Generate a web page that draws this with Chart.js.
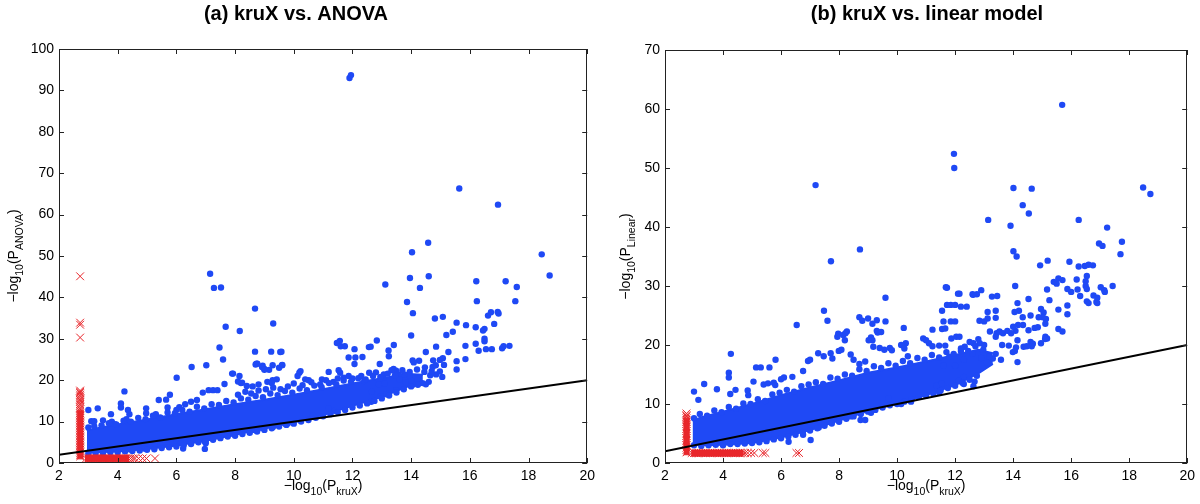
<!DOCTYPE html>
<html>
<head>
<meta charset="utf-8">
<script src="https://cdn.jsdelivr.net/npm/chart.js@4.4.1/dist/chart.umd.min.js"></script>
<style>
  body { margin: 0; background: #fff; }
  #wrap { position: relative; width: 1200px; height: 504px; }
  #wrap canvas { position: absolute; top: 0; }
</style>
</head>
<body>
<div id="wrap">
  <canvas id="chartA" width="600" height="504" style="left:0"></canvas>
  <canvas id="chartB" width="600" height="504" style="left:600px"></canvas>
</div>
<script>
// ---- shared axes ----
const xTickValues = [2, 4, 6, 8, 10, 12, 14, 16, 18, 20];
const aYTickValues = [0, 10, 20, 30, 40, 50, 60, 70, 80, 90, 100];
const bYTickValues = [0, 10, 20, 30, 40, 50, 60, 70];
const diagonal = [[2, 2], [20, 20]];   // y = x reference line

// ---- (a) kruX vs. ANOVA ----
// solid core of the blue cloud (upper / lower edge)
const aCoreX     = [2.95, 3.3, 4,   5,    6,    7,  8,    9,    10,   11,   12,   13,   13.9, 14.4];
const aCoreUpper = [7.8,  8.4, 9.3, 10.5, 11.8, 13, 14.2, 15.3, 16.5, 17.8, 19.2, 20.5, 21.5, 21.3];
const aCoreLower = [2.4,  2.6, 2.8, 3.4,  4.2,  5.4, 6.8, 8.3,  9.8,  11.6, 13.8, 16,   18.5, 19.8];

const aBlue = [
  [11.9, 93.0], [11.95, 93.7], [15.64, 66.3], [16.96, 62.4], [14.03, 50.9], [14.58, 53.2], [18.45, 50.4], [18.72, 45.3],
  [7.15, 45.7], [7.28, 42.3], [7.52, 42.4], [13.12, 43.1], [13.96, 44.7], [14.3, 42.3], [14.6, 45.1], [16.22, 43.9],
  [17.22, 43.9], [17.6, 42.5], [17.55, 39.1], [13.86, 38.9], [14.06, 36.2], [16.24, 39.1], [8.68, 37.3], [7.68, 32.9],
  [8.16, 31.9], [9.3, 33.7], [14.81, 34.9], [15.08, 35.3], [15.55, 33.9], [15.87, 33.3], [15.42, 31.7], [15.2, 30.9],
  [14.0, 30.8], [16.2, 32.8], [16.5, 32.4], [16.45, 32.0], [16.62, 35.6], [16.72, 36.4], [16.95, 36.5], [16.98, 36.1],
  [16.83, 33.6], [14.85, 28.1], [14.5, 26.8], [15.27, 26.8], [15.85, 28.3], [15.85, 25.1], [15.55, 24.6], [15.55, 22.6],
  [16.2, 28.8], [16.3, 27.1], [16.5, 30.0], [16.5, 29.4], [16.55, 27.5], [16.75, 27.5], [17.1, 27.7], [17.15, 28.2], [17.35, 28.3],
  [12.83, 29.6], [13.41, 28.5], [12.56, 28.0], [12.62, 28.1], [11.57, 29.5], [11.47, 29.0], [11.6, 28.2], [11.74, 28.2],
  [12.07, 27.5], [11.87, 25.5], [12.1, 25.5], [12.34, 25.6], [12.07, 23.9], [12.93, 23.9], [13.23, 27.2], [13.24, 25.8],
  [14.05, 24.8], [14.27, 24.7], [14.09, 24.3], [14.75, 24.8], [14.98, 24.9], [15.08, 25.3], [14.47, 23.1], [14.73, 23.2],
  [14.84, 23.6], [15.12, 23.7], [14.85, 21.4], [15.06, 20.8], [14.98, 22.1], [14.65, 21.2], [14.6, 19.6], [14.5, 19.0],
  [14.39, 19.3], [14.23, 18.9], [14.05, 18.9], [13.96, 18.9], [14.0, 20.0], [13.94, 21.2], [13.77, 21.4], [13.58, 21.4],
  [13.49, 22.3], [13.4, 22.7], [13.33, 22.4], [13.07, 21.4], [12.57, 21.8], [11.58, 21.8], [11.53, 22.4], [11.19, 22.0],
  [11.87, 21.0], [11.5, 20.4], [10.96, 20.2], [10.39, 20.2], [10.13, 21.0], [10.19, 21.8], [10.51, 20.0],
  [9.54, 26.8], [9.6, 23.6], [9.5, 23.0], [9.28, 23.6], [9.28, 20.0], [9.42, 20.2], [10.23, 22.2],
  [13.24, 16.8], [13.49, 17.6], [13.15, 16.6], [12.64, 14.8], [12.96, 16.1], [12.66, 17.2], [11.38, 12.6], [11.18, 13.2],
  [9.8, 9.6], [9.72, 9.4],
  [6.01, 20.6], [6.52, 23.2], [7.02, 23.6], [7.93, 21.6], [8.24, 19.4], [4.23, 17.3], [7.47, 27.9], [7.59, 25.0],
  [8.68, 26.9], [8.73, 24.0], [9.23, 26.9], [9.58, 26.9], [9.16, 22.5], [8.94, 23.5], [9.0, 22.7], [8.76, 24.0], [9.61, 23.7],
  [3.0, 12.8], [3.32, 13.2], [4.11, 14.4], [4.11, 13.4], [3.77, 11.8], [3.1, 10.1], [3.2, 10.1], [3.5, 10.3], [3.8, 10.0],
  [3.9, 9.4], [4.3, 10.6], [4.4, 11.8], [4.35, 12.8], [4.97, 13.2], [4.97, 12.0], [5.3, 11.8], [5.4, 15.2], [5.65, 15.3],
  [5.78, 16.5], [6.9, 17.0], [7.1, 17.6], [7.25, 17.6], [7.4, 17.6], [7.64, 19.1], [7.9, 21.6], [8.15, 21.0], [8.2, 19.3],
  [8.1, 19.7], [8.7, 23.8], [8.92, 23.2], [9.0, 22.5], [8.6, 18.5], [8.4, 18.6], [8.8, 19.0], [9.1, 19.6], [9.25, 19.3],
  [6.1, 13.5], [6.3, 14.2], [6.5, 14.8], [6.7, 15.2], [6.0, 12.8], [5.7, 13.4],
  [8.1, 16.5], [8.35, 17.2], [8.55, 16.8], [8.8, 17.5], [9.05, 17.8], [9.3, 18.2], [9.55, 17.8], [9.8, 18.5], [10.0, 19.2],
  [10.3, 18.8], [10.6, 19.5], [10.9, 19.0], [11.1, 20.0], [11.35, 19.6], [11.7, 20.6], [12.0, 20.4], [12.3, 21.0],
  [12.8, 21.9], [13.1, 19.2], [13.6, 20.2], [13.8, 19.5], [12.4, 19.8], [12.9, 19.0],
  [6.23, 3.5], [6.97, 3.4], [6.97, 5.2], [7.0, 4.8], [7.76, 7.1], [7.87, 7.1], [8.65, 8.0], [8.75, 7.8], [9.0, 8.8],
  [8.6, 8.8], [6.0, 5.2], [6.15, 4.8], [5.45, 4.4], [5.65, 4.8], [4.9, 3.5], [4.4, 3.3], [10.65, 11.5], [9.29, 8.7], [8.9, 8.5],
  // along the upper edge of the core
  [3.0, 8.6], [3.2, 8.9], [3.45, 9.1], [3.7, 9.6], [3.95, 9.3], [4.2, 10.2], [4.45, 10.0], [4.7, 10.9], [4.95, 10.6],
  [5.2, 11.4], [5.45, 11.0], [5.7, 12.2], [5.95, 12.0], [6.2, 12.8], [6.45, 12.4], [6.7, 13.6], [6.95, 13.2], [7.2, 14.2],
  [7.45, 14.0], [7.7, 15.0], [7.95, 14.6], [8.2, 15.6], [8.45, 15.3], [8.7, 16.2], [8.95, 15.9], [9.2, 16.8], [9.45, 16.4],
  [9.7, 17.4], [9.95, 17.0], [10.2, 18.0], [10.45, 17.6], [10.7, 18.7], [10.95, 18.3], [11.2, 19.3], [11.45, 19.0],
  [11.7, 19.9], [11.95, 19.6], [12.2, 20.5], [12.45, 20.2], [12.7, 21.0], [12.95, 20.8], [13.2, 21.6], [13.45, 21.2],
  [13.7, 22.4], [13.95, 22.0], [14.2, 22.6], [14.45, 22.0], [14.7, 22.2],
  // along the lower edge of the core
  [3.0, 2.3], [3.25, 2.5], [3.5, 2.4], [3.75, 2.6], [4.0, 2.6], [4.25, 2.8], [4.5, 2.9], [4.75, 3.0], [5.0, 3.2],
  [5.25, 3.3], [5.5, 3.6], [5.75, 3.8], [6.0, 4.0], [6.25, 4.3], [6.5, 4.6], [6.75, 5.0], [7.0, 5.2], [7.25, 5.6],
  [7.5, 6.0], [7.75, 6.4], [8.0, 6.6], [8.25, 7.0], [8.5, 7.3], [8.75, 7.6], [9.0, 8.0], [9.25, 8.4], [9.5, 8.8],
  [9.75, 9.2], [10.0, 9.5], [10.25, 10.0], [10.5, 10.4], [10.75, 10.9], [11.0, 11.3], [11.25, 11.8], [11.5, 12.3],
  [11.75, 12.8], [12.0, 13.4], [12.25, 13.9], [12.5, 14.4], [12.75, 15.0], [13.0, 15.6], [13.25, 16.3], [13.5, 17.0],
  [13.75, 17.8], [14.0, 18.5]
];

// red crosses: a column at kruX ~ 2.72 and a row at ANOVA ~ 1.1
const aRedColX = 2.72;
const aRedColY = [1.6, 2.0, 2.4, 2.8, 3.2, 3.6, 4.0, 4.4, 4.8, 5.2, 5.6, 6.0, 6.4, 6.8, 7.2, 7.6, 8.0, 8.4, 8.8, 9.2,
  9.6, 10.0, 10.4, 10.8, 11.2, 11.6, 12.0, 12.5, 13.0, 13.4, 13.9, 14.3, 14.8, 15.2, 15.6, 16.1, 16.5, 16.9, 17.2, 17.5,
  30.3, 33.4, 33.9, 45.1];
const aRedRowY = 1.1;
const aRedRowX = [2.92, 3.0, 3.08, 3.16, 3.24, 3.32, 3.4, 3.48, 3.56, 3.64, 3.72, 3.8, 3.88, 3.96, 4.04, 4.12, 4.2,
  4.28, 4.36, 4.44, 4.52, 4.59, 4.71, 4.85, 4.98, 5.27];
// where the red crosses overlap into a solid block: [xFrom, xTo, yFrom, yTo]
const aRedSolid = [[2.62, 2.83, 1.0, 12.6], [2.88, 4.4, 0.3, 1.9]];

// ---- (b) kruX vs. linear model ----
const bCoreX     = [2.95, 3.3, 4,   5,  6,    7,    8,  9,    10,   11,   12,   12.8, 13.3];
const bCoreUpper = [7.2,  7.8, 8.7, 10, 11.5, 12.8, 14, 15.3, 16.2, 17.2, 18.3, 19.2, 18.6];
const bCoreLower = [3.1,  3.0, 3.1, 3.4, 4.3, 5.6, 7.2, 8.8, 10.1, 11.5, 13.2, 15.2, 16.8];

const bBlue = [
  [15.69, 60.7], [11.96, 52.4], [11.97, 50.0], [7.19, 47.1], [14.01, 46.6], [14.64, 46.5], [18.48, 46.7], [18.73, 45.6],
  [14.33, 43.7], [14.54, 42.3], [13.14, 41.2], [16.26, 41.2], [13.91, 40.2], [17.24, 39.9], [8.72, 36.2], [7.72, 34.2],
  [14.01, 35.9], [14.12, 35.0], [17.75, 37.5], [17.7, 35.4], [16.96, 37.2], [17.08, 36.8], [14.93, 33.5], [15.19, 34.3],
  [15.94, 34.1], [16.26, 33.3], [16.47, 33.4], [16.6, 33.6], [16.75, 33.5], [16.54, 31.7], [15.5, 30.4], [15.7, 31.0],
  [16.0, 29.0], [16.19, 31.1], [16.22, 29.4], [16.31, 28.3], [16.5, 30.8], [16.5, 30.0], [16.54, 29.5], [16.54, 27.4],
  [16.77, 28.4], [16.87, 27.3], [17.02, 29.8], [17.14, 29.3], [17.16, 29.0], [17.43, 30.0], [16.6, 27.1], [16.9, 27.1], [16.9, 28.0],
  [14.07, 30.0], [14.53, 27.8], [15.25, 27.6], [15.17, 29.4], [15.4, 30.7], [15.56, 31.3], [15.56, 26.0], [15.56, 22.7],
  [15.87, 29.5], [15.87, 26.7], [15.87, 25.2],
  [11.72, 29.7], [12.15, 28.7], [12.6, 28.6], [12.75, 28.6], [12.9, 29.3], [13.45, 28.3], [13.27, 28.2], [11.68, 29.8],
  [12.1, 28.7], [12.62, 28.5], [11.72, 26.8], [11.85, 26.8], [12.0, 26.8], [11.55, 25.8], [12.2, 26.5], [12.4, 26.5],
  [9.6, 28.0], [7.48, 25.8], [7.6, 24.1], [8.7, 24.7], [8.8, 24.1], [9.0, 24.5], [9.3, 24.2], [9.15, 23.6], [9.6, 24.0],
  [9.33, 22.1], [9.3, 22.4], [9.45, 22.2], [10.23, 22.9], [8.27, 22.3], [8.2, 20.8], [7.97, 21.9], [6.54, 23.4], [9.1, 21.3],
  [9.15, 20.8], [9.4, 19.5], [9.75, 19.5], [10.3, 20.3], [10.9, 21.1], [11.1, 20.3], [11.22, 22.6], [11.55, 22.7],
  [11.66, 22.8], [11.6, 24.0], [11.85, 24.0], [12.0, 24.0],
  [12.84, 24.1], [13.12, 25.6], [13.12, 24.5], [13.0, 24.0], [13.4, 25.8], [13.4, 24.6], [14.2, 25.8], [14.05, 25.6],
  [14.15, 27.1], [14.6, 25.0], [14.96, 26.1], [15.05, 25.5], [15.02, 24.7], [15.13, 24.4], [15.11, 23.6], [14.88, 24.7],
  [14.85, 23.0], [14.74, 22.9], [14.33, 24.7], [14.34, 23.4], [14.17, 23.4], [14.08, 22.4], [14.15, 20.8], [14.1, 19.6],
  [14.06, 19.0], [14.15, 17.1], [14.53, 22.5], [14.6, 20.5], [14.68, 20.2], [14.64, 19.8], [14.36, 19.7], [14.47, 19.8],
  [14.96, 20.3], [15.11, 21.4], [15.17, 21.1], [15.7, 22.3], [15.1, 21.0],
  [13.43, 22.0], [13.53, 22.3], [13.65, 22.0], [13.8, 22.4], [13.93, 22.0], [14.0, 23.1], [13.2, 22.3], [13.4, 21.4],
  [13.62, 20.0], [13.85, 19.9], [13.99, 18.8], [13.58, 17.5], [13.3, 17.7],
  [9.02, 20.8], [9.18, 19.7], [9.56, 19.2], [9.82, 19.1], [10.14, 20.0], [10.25, 19.4], [10.37, 18.1], [11.0, 20.8],
  [11.22, 19.8], [11.45, 19.9], [11.66, 19.9], [11.87, 21.1], [12.04, 21.4], [12.15, 21.4], [12.33, 19.7], [12.63, 20.3],
  [12.85, 20.3], [12.97, 19.2], [13.18, 18.0], [12.5, 20.5], [12.8, 21.0], [13.0, 20.0], [12.6, 18.5], [12.9, 17.8],
  [13.1, 17.0], [13.4, 18.5], [12.3, 17.5], [12.0, 16.5], [12.2, 19.0], [11.8, 18.0], [11.6, 16.5],
  [12.67, 13.8], [12.63, 13.0], [12.3, 13.4], [12.3, 14.6], [12.12, 13.9], [11.45, 12.0], [11.36, 13.1], [10.48, 10.4],
  [10.14, 10.0], [9.7, 11.0], [11.54, 13.5],
  [3.0, 12.1], [3.15, 10.7], [3.35, 13.4], [3.79, 12.5], [4.27, 18.5], [4.2, 15.3], [4.2, 14.5], [4.43, 12.4], [4.25, 11.7],
  [4.85, 12.3], [4.87, 11.5], [5.14, 16.2], [5.3, 16.2], [5.6, 16.2], [5.81, 17.5], [5.05, 13.8], [5.4, 13.3], [5.55, 13.5],
  [5.75, 13.6], [5.8, 13.2], [6.0, 14.2], [6.1, 14.5], [6.39, 14.6], [6.76, 15.6], [6.93, 17.3], [7.0, 17.5], [7.28, 18.6],
  [7.47, 18.1], [7.71, 18.6], [7.77, 17.7], [7.99, 19.0], [8.08, 19.2], [8.14, 21.7], [7.94, 21.4], [8.22, 22.0], [8.4, 18.4],
  [8.5, 17.5], [8.7, 16.8], [8.9, 17.2],
  [6.26, 3.6], [7.02, 3.9], [6.76, 4.8], [6.62, 5.6], [7.3, 6.0], [7.54, 7.4], [8.74, 7.3], [8.9, 7.3], [8.4, 7.9], [9.1, 8.5],
  // along the upper edge of the core
  [3.0, 7.6], [3.2, 8.3], [3.45, 8.0], [3.7, 8.9], [3.95, 8.6], [4.2, 9.5], [4.45, 9.2], [4.7, 10.1], [4.95, 10.0],
  [5.2, 10.8], [5.45, 10.5], [5.7, 11.6], [5.95, 11.9], [6.2, 12.4], [6.45, 12.1], [6.7, 13.0], [6.95, 13.3], [7.2, 13.7],
  [7.45, 13.4], [7.7, 14.5], [7.95, 14.3], [8.2, 15.0], [8.45, 14.8], [8.7, 15.9], [8.95, 15.6], [9.2, 16.4], [9.45, 16.1],
  [9.7, 16.9], [9.95, 16.5], [10.2, 17.3], [10.45, 16.9], [10.7, 17.8], [10.95, 17.5], [11.2, 18.3], [11.45, 17.9],
  [11.7, 18.8], [11.95, 18.5], [12.2, 19.4], [12.45, 19.0], [12.7, 19.8],
  // along the lower edge of the core
  [3.0, 3.0], [3.25, 2.9], [3.5, 3.0], [3.75, 3.1], [4.0, 3.0], [4.25, 3.2], [4.5, 3.2], [4.75, 3.3], [5.0, 3.4],
  [5.25, 3.5], [5.5, 3.7], [5.75, 4.0], [6.0, 4.2], [6.25, 4.5], [6.5, 4.8], [6.75, 5.2], [7.0, 5.5], [7.25, 5.9],
  [7.5, 6.3], [7.75, 6.7], [8.0, 7.0], [8.25, 7.5], [8.5, 7.9], [8.75, 8.3], [9.0, 8.7], [9.25, 9.0], [9.5, 9.4],
  [9.75, 9.8], [10.0, 10.0], [10.25, 10.4], [10.5, 10.8], [10.75, 11.2], [11.0, 11.4], [11.25, 11.8], [11.5, 12.3],
  [11.75, 12.7], [12.0, 13.1], [12.25, 13.6], [12.5, 14.1], [12.75, 14.8]
];

const bRedColX = 2.74;
const bRedColY = [1.8, 2.2, 2.6, 3.0, 3.4, 3.8, 4.2, 4.6, 5.0, 5.4, 5.8, 6.2, 6.6, 7.0, 7.3, 7.6, 7.9, 8.1, 8.4];
const bRedRowY = 1.7;
const bRedRowX = [2.92, 3.0, 3.08, 3.16, 3.24, 3.32, 3.4, 3.48, 3.56, 3.64, 3.72, 3.8, 3.88, 3.96, 4.04, 4.12, 4.2,
  4.28, 4.36, 4.44, 4.52, 4.6, 4.68, 4.76, 4.85, 4.97, 5.08, 5.37, 5.46, 6.53, 6.62];
const bRedSolid = [[2.64, 2.85, 1.4, 7.6], [2.9, 4.7, 1.15, 2.2]];

// ---- drawing ----
const BLUE = '#1f49f5';
const RED = '#e8262b';
const FONT = '"Liberation Sans", Arial, Helvetica, sans-serif';

function pts(pairs) { return pairs.map(p => ({ x: p[0], y: p[1] })); }

// draw text runs where some pieces are subscripts, centred on (cx, cy)
function drawRuns(ctx, runs, cx, cy) {
  const main = '14px ' + FONT, sub = '10.5px ' + FONT;
  let total = 0;
  runs.forEach(r => { ctx.font = r[1] ? sub : main; total += ctx.measureText(r[0]).width; });
  let x = cx - total / 2;
  ctx.textAlign = 'left';
  ctx.textBaseline = 'middle';
  runs.forEach(r => {
    ctx.font = r[1] ? sub : main;
    ctx.fillText(r[0], x, cy + (r[1] ? 6 : 0));
    x += ctx.measureText(r[0]).width;
  });
}

const frame = {
  id: 'frame',
  afterDraw(chart, args, o) {
    const { ctx, chartArea: a, scales: { x, y } } = chart;
    ctx.save();
    ctx.strokeStyle = '#222';
    ctx.lineWidth = 1;
    ctx.strokeRect(Math.round(a.left) + 0.5, Math.round(a.top) + 0.5, Math.round(a.width) - 1, Math.round(a.height) - 1);
    ctx.beginPath();
    x.ticks.forEach(t => {
      const p = Math.round(x.getPixelForValue(t.value)) + 0.5;
      ctx.moveTo(p, a.bottom); ctx.lineTo(p, a.bottom - 5);
      ctx.moveTo(p, a.top); ctx.lineTo(p, a.top + 5);
    });
    y.ticks.forEach(t => {
      const p = Math.round(y.getPixelForValue(t.value)) + 0.5;
      ctx.moveTo(a.left, p); ctx.lineTo(a.left + 5, p);
      ctx.moveTo(a.right, p); ctx.lineTo(a.right - 5, p);
    });
    ctx.stroke();

    ctx.fillStyle = '#000';
    ctx.font = 'bold 20px ' + FONT;
    ctx.textAlign = 'center';
    ctx.textBaseline = 'middle';
    ctx.fillText(o.title, o.titleX, 14);

    drawRuns(ctx, [['\u2212log', 0], ['10', 1], ['(P', 0], ['kruX', 1], [')', 0]], (a.left + a.right) / 2, 486);

    ctx.translate(o.yLabelX, (a.top + a.bottom) / 2);
    ctx.rotate(-Math.PI / 2);
    drawRuns(ctx, [['\u2212log', 0], ['10', 1], ['(P', 0], [o.ySub, 1], [')', 0]], 0, 0);
    ctx.restore();
  }
};

function buildChart(id, c) {
  const red = c.redColY.map(v => ({ x: c.redColX, y: v }))
    .concat(c.redRowX.map(v => ({ x: v, y: c.redRowY })));
  const datasets = [
    { data: pts(diagonal), showLine: true, borderColor: '#000', borderWidth: 2, pointRadius: 0, order: 0 },
    { data: red, pointStyle: 'crossRot', pointRadius: 5.5, borderColor: RED, backgroundColor: RED, borderWidth: 1, order: 1 },
    { data: pts(c.blue), pointStyle: 'circle', pointRadius: 3.2, backgroundColor: BLUE, borderWidth: 0, order: 2 },
    { data: c.coreX.map((v, i) => ({ x: v, y: c.coreUpper[i] })), showLine: true, fill: '+1',
      backgroundColor: BLUE, borderColor: BLUE, borderWidth: 2, pointRadius: 0, order: 3 },
    { data: c.coreX.map((v, i) => ({ x: v, y: c.coreLower[i] })), showLine: true, fill: false,
      borderColor: BLUE, borderWidth: 2, pointRadius: 0, order: 3 }
  ];
  // solid red blocks where the crosses pile up
  c.redSolid.forEach(b => {
    datasets.push({ data: [{ x: b[0], y: b[3] }, { x: b[1], y: b[3] }], showLine: true, fill: '+1',
      backgroundColor: RED, borderColor: RED, borderWidth: 1, pointRadius: 0, order: 1 });
    datasets.push({ data: [{ x: b[0], y: b[2] }, { x: b[1], y: b[2] }], showLine: true, fill: false,
      borderColor: RED, borderWidth: 1, pointRadius: 0, order: 1 });
  });
  const tickFont = { family: FONT, size: 14 };
  return new Chart(document.getElementById(id), {
    type: 'scatter',
    data: { datasets },
    options: {
      responsive: false,
      animation: false,
      events: [],
      layout: { padding: { top: c.top, right: c.right, left: 0, bottom: 0 } },
      plugins: {
        legend: { display: false },
        tooltip: { enabled: false },
        frame: { title: c.title, titleX: c.titleX, ySub: c.ySub, yLabelX: c.yLabelX }
      },
      scales: {
        x: {
          type: 'linear', min: 2, max: 20,
          grid: { display: false, drawTicks: false }, border: { display: false },
          ticks: { color: '#000', font: tickFont, padding: 5, maxRotation: 0, autoSkip: false },
          afterBuildTicks: s => { s.ticks = xTickValues.map(v => ({ value: v })); },
          afterFit: s => { s.height = 41; }
        },
        y: {
          type: 'linear', min: 0, max: c.yMax,
          grid: { display: false, drawTicks: false }, border: { display: false },
          ticks: { color: '#000', font: tickFont, padding: 5, autoSkip: false },
          afterBuildTicks: s => { s.ticks = c.yTicks.map(v => ({ value: v })); },
          afterFit: s => { s.width = c.left; }
        }
      }
    },
    plugins: [frame]
  });
}

buildChart('chartA', {
  blue: aBlue, coreX: aCoreX, coreUpper: aCoreUpper, coreLower: aCoreLower,
  redColX: aRedColX, redColY: aRedColY, redRowX: aRedRowX, redRowY: aRedRowY, redSolid: aRedSolid,
  yMax: 100, yTicks: aYTickValues, left: 59, top: 49, right: 12,
  title: '(a) kruX vs. ANOVA', titleX: 296, ySub: 'ANOVA', yLabelX: 14
});

buildChart('chartB', {
  blue: bBlue, coreX: bCoreX, coreUpper: bCoreUpper, coreLower: bCoreLower,
  redColX: bRedColX, redColY: bRedColY, redRowX: bRedRowX, redRowY: bRedRowY, redSolid: bRedSolid,
  yMax: 70, yTicks: bYTickValues, left: 65, top: 50, right: 10,
  title: '(b) kruX vs. linear model', titleX: 327, ySub: 'Linear', yLabelX: 26
});
</script>
</body>
</html>
